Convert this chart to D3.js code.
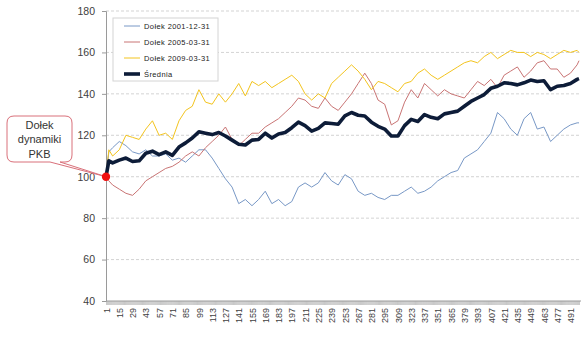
<!DOCTYPE html>
<html>
<head>
<meta charset="utf-8">
<script src="https://cdn.jsdelivr.net/npm/d3@7"></script>
<style>
  body { margin: 0; background: #fff; }
  svg { display: block; font-family: "Liberation Sans", Arial, sans-serif; }
</style>
</head>
<body>
<div id="chart"></div>
<script>
// sampled session numbers (x categories 1..500)
const days = [1, 4, 8, 15, 22, 29, 36, 43, 50, 57, 64, 71, 78, 85, 92, 99, 106, 113, 120, 127,
  134, 141, 148, 155, 162, 169, 176, 183, 190, 197, 204, 211, 218, 225, 232, 239, 246, 253, 260, 267,
  274, 281, 288, 295, 302, 309, 316, 323, 330, 337, 344, 351, 358, 365, 372, 379, 386, 393, 400, 407,
  414, 421, 428, 435, 442, 449, 456, 463, 470, 477, 484, 491, 498, 500];

const dolek2001 = [100, 112, 114, 117, 115, 112, 111, 113, 110, 110, 111, 108, 109, 107, 110, 113, 113, 109, 104, 99,
  95, 87, 89, 86, 89, 93, 87, 89, 86, 88, 95, 97, 95, 97, 102, 98, 96, 101, 99, 93,
  91, 92, 90, 89, 91, 91, 93, 95, 92, 93, 95, 98, 100, 102, 103, 109, 111, 113, 117, 121,
  131, 128, 123, 120, 128, 131, 123, 124, 117, 120, 123, 125, 126, 126];

const dolek2005 = [100, 98, 96, 94, 92, 91, 94, 98, 100, 102, 104, 105, 107, 110, 112, 110, 114, 117, 120, 124,
  118, 115, 118, 121, 121, 124, 126, 128, 131, 134, 138, 137, 134, 133, 138, 134, 132, 136, 140, 145,
  150, 145, 137, 135, 125, 127, 136, 142, 138, 145, 142, 139, 142, 140, 139, 138, 142, 146, 144, 147,
  143, 149, 151, 153, 148, 151, 155, 156, 152, 152, 148, 150, 154, 156];

const dolek2009 = [100, 113, 110, 113, 120, 119, 118, 123, 127, 120, 121, 118, 127, 132, 134, 142, 136, 135, 140, 136,
  140, 145, 139, 146, 144, 146, 143, 145, 147, 149, 146, 140, 137, 140, 138, 145, 148, 151, 154, 151,
  147, 142, 146, 145, 143, 141, 145, 146, 150, 152, 149, 147, 149, 151, 153, 155, 156, 155, 158, 160,
  157, 159, 161, 160, 160, 158, 160, 159, 157, 159, 161, 160, 161, 160];

const seriesNames = ['Dołek 2001-12-31', 'Dołek 2005-03-31', 'Dołek 2009-03-31', 'Średnia'];
const yTicks = [40, 60, 80, 100, 120, 140, 160, 180];
const xLabelStep = 14;
const nDays = 500;

const width = 588;
const height = 337;
const margin = { left: 106, right: 9, top: 11, bottom: 36 };

// average of the three paths
const srednia = days.map((d, i) => d3.mean([dolek2001[i], dolek2005[i], dolek2009[i]]));

const series = [
  { name: seriesNames[0], values: dolek2001, color: '#7898c6', w: 1 },
  { name: seriesNames[1], values: dolek2005, color: '#c97474', w: 1 },
  { name: seriesNames[2], values: dolek2009, color: '#f3c41e', w: 1 },
  { name: seriesNames[3], values: srednia, color: '#0d1c38', w: 3.6 },
];

const svg = d3.select('#chart').append('svg')
  .attr('width', width)
  .attr('height', height);

const x = d3.scaleLinear()
  .domain([1, nDays])
  .range([margin.left, width - margin.right]);

const y = d3.scaleLinear()
  .domain([40, 180])
  .range([height - margin.bottom, margin.top]);

// gridlines
svg.append('g')
  .selectAll('line')
  .data(yTicks.filter((t) => t > 40))
  .join('line')
  .attr('x1', margin.left)
  .attr('x2', width - margin.right + 2)
  .attr('y1', (d) => y(d))
  .attr('y2', (d) => y(d))
  .attr('stroke', '#c8c8c8')
  .attr('stroke-dasharray', '3,2')
  .attr('stroke-width', 0.8);

// y axis
const yAxis = svg.append('g')
  .attr('transform', `translate(${margin.left},0)`)
  .call(d3.axisLeft(y).tickValues(yTicks).tickSize(4).tickPadding(7));
yAxis.select('.domain').attr('stroke', '#9a9a9a');
yAxis.selectAll('.tick line').attr('stroke', '#9a9a9a');
yAxis.selectAll('text')
  .attr('fill', '#404040')
  .style('font-size', '10.5px')
  .style('font-family', '"Liberation Sans", Arial, sans-serif');

// x axis: one tick per session, label every 14th
const allDays = d3.range(1, nDays + 1);
const xAxisG = svg.append('g')
  .attr('transform', `translate(0,${y(40)})`);

xAxisG.append('g')
  .selectAll('line')
  .data(allDays)
  .join('line')
  .attr('x1', (d) => x(d) + 0.5)
  .attr('x2', (d) => x(d) + 0.5)
  .attr('y1', 0)
  .attr('y2', 4)
  .attr('stroke', '#a8a8a8')
  .attr('stroke-width', 0.6);

xAxisG.append('line')
  .attr('x1', x(1))
  .attr('x2', width - margin.right + 2)
  .attr('stroke', '#9a9a9a');

const labelDays = allDays.filter((d) => (d - 1) % xLabelStep === 0);
xAxisG.selectAll('text.xl')
  .data(labelDays)
  .join('text')
  .attr('class', 'xl')
  .attr('transform', (d) => `translate(${x(d) + 0.5},7) rotate(-90)`)
  .attr('text-anchor', 'end')
  .attr('dy', '0.35em')
  .attr('fill', '#404040')
  .style('font-size', '9px')
  .text((d) => d);

// lines
const line = d3.line()
  .x((d, i) => x(days[i]))
  .y((d) => y(d));

svg.append('g')
  .selectAll('path')
  .data(series)
  .join('path')
  .attr('d', (s) => line(s.values))
  .attr('fill', 'none')
  .attr('stroke', (s) => s.color)
  .attr('stroke-width', (s) => s.w)
  .attr('stroke-linejoin', 'round');

// legend
const legend = svg.append('g').attr('transform', 'translate(113,18)');
legend.append('rect')
  .attr('width', 105)
  .attr('height', 63)
  .attr('fill', '#fff')
  .attr('stroke', '#d4d4d4');

const legendItems = legend.selectAll('g.item')
  .data(series)
  .join('g')
  .attr('class', 'item')
  .attr('transform', (d, i) => `translate(0,${8 + i * 16})`);

legendItems.append('line')
  .attr('x1', 11)
  .attr('x2', 27)
  .attr('stroke', (d) => d.color)
  .attr('stroke-width', (d) => d.w);

legendItems.append('text')
  .attr('x', 31)
  .attr('dy', '0.35em')
  .attr('fill', '#222')
  .style('font-size', '7.5px')
  .style('letter-spacing', '0.4px')
  .text((d) => d.name);

// callout for the GDP trough
const dot = { x: x(1), y: y(100) };
const callout = svg.append('g');
callout.append('path')
  .attr('d', `M14,116 H65 Q72,116 72,123 V155 Q72,162 65,162 H60 L${dot.x},${dot.y} L50,162 H14 Q7,162 7,155 V123 Q7,116 14,116 Z`)
  .attr('fill', '#fff')
  .attr('stroke', '#d9707a')
  .attr('stroke-width', 1);

callout.selectAll('text')
  .data(['Dołek', 'dynamiki', 'PKB'])
  .join('text')
  .attr('x', 39.5)
  .attr('y', (d, i) => 125 + i * 14.5)
  .attr('dy', '0.35em')
  .attr('text-anchor', 'middle')
  .attr('fill', '#333')
  .style('font-size', '11px')
  .text(String);

svg.append('circle')
  .attr('cx', dot.x)
  .attr('cy', dot.y)
  .attr('r', 4.2)
  .attr('fill', '#f01010');
</script>
</body>
</html>
